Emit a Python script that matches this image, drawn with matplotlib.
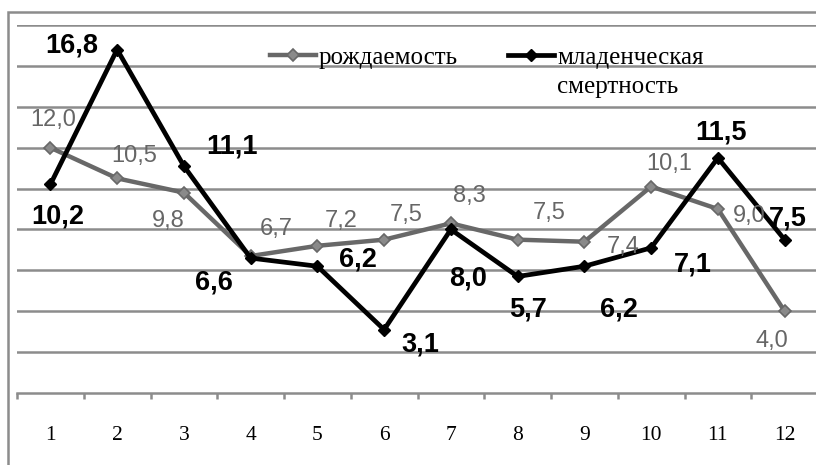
import numpy as np
import matplotlib.pyplot as plt
from matplotlib.patches import Rectangle
from matplotlib.ticker import FixedLocator

# -----------------------
# data
# -----------------------
months = [1, 2, 3, 4, 5, 6, 7, 8, 9, 10, 11, 12]
birth_rate = [12.0, 10.5, 9.8, 6.7, 7.2, 7.5, 8.3, 7.5, 7.4, 10.1, 9.0, 4.0]
infant_mort = [10.2, 16.8, 11.1, 6.6, 6.2, 3.1, 8.0, 5.7, 6.2, 7.1, 11.5, 7.5]
labels = ['рождаемость', 'младенческая', 'смертность']

# label offsets in pixels (dx right, dy up)
birth_off = [(3, 28), (17, 22), (-16, -28), (26, 27), (24, 25), (22, 25),
             (18, 27), (32, 27), (39, -5), (18, 23), (31, -7), (-13, -30)]
mort_off = [(7, -32), (-45, 4), (48, 20), (-37, -24), (41, 7), (36, -15),
            (17, -49), (10, -33), (35, -43), (42, -17), (3, 25), (3, 21)]

W, H = 816, 465
GRID = '#8c8c8c'
GRAY = '#686868'

fig = plt.figure(figsize=(W / 100, H / 100), dpi=100)
ax = fig.add_axes([17 / W, 1 - 393 / H, 801 / W, 368 / H])

# outer frame (cut off at right / bottom like the original)
fig.patches.append(Rectangle((8 / W, -0.5), 2.0, 1.5 - 12 / H,
                             transform=fig.transFigure, fill=False,
                             edgecolor=GRID, lw=1.8, clip_on=False))

ax.plot(months, birth_rate, color=GRAY, lw=3.2, marker='D', ms=6,
        mfc='#8a8a8a', mec=GRAY, mew=1.2, label=labels[0], zorder=3)
ax.plot(months, infant_mort, color='black', lw=3.4, marker='D', ms=6.5,
        mfc='black', mec='black', label=labels[1], zorder=4)

for x, v, (dx, dy) in zip(months, birth_rate, birth_off):
    ax.annotate(f'{v:.1f}'.replace('.', ','), (x, v),
                xytext=(dx * 0.72, dy * 0.72), textcoords='offset points',
                ha='center', va='center', fontsize=17, color='#666666',
                family='Liberation Sans', zorder=5)
for x, v, (dx, dy) in zip(months, infant_mort, mort_off):
    ax.annotate(f'{v:.1f}'.replace('.', ','), (x, v),
                xytext=(dx * 0.72, dy * 0.72), textcoords='offset points',
                ha='center', va='center', fontsize=19.5, color='black',
                family='Liberation Sans', fontweight='bold', zorder=5)

ax.set_xlim(0.5, 12.5)
ax.set_ylim(0, 18)
ax.set_yticks(np.arange(2, 19, 2))
ax.yaxis.grid(True, color=GRID, lw=1.8)
ax.set_axisbelow(True)
ax.tick_params(axis='y', left=False, labelleft=False)

ax.set_xticks(months)
ax.set_xticklabels([str(m) for m in months], family='Liberation Serif', fontsize=15.5)
ax.xaxis.set_minor_locator(FixedLocator(np.arange(0.5, 12.6, 1)))
ax.tick_params(axis='x', which='major', length=0, pad=24)
ax.tick_params(axis='x', which='minor', length=4, width=1.8, color=GRID, direction='out')

for s in ['top', 'right', 'left']:
    ax.spines[s].set_visible(False)
ax.spines['bottom'].set_color(GRID)
ax.spines['bottom'].set_linewidth(1.8)

leg = ax.legend(loc='upper left', bbox_to_anchor=(0.30, 0.975), ncol=2,
                frameon=False, borderpad=0, handlelength=1.85, handletextpad=0.12,
                columnspacing=2.0, prop={'family': 'Liberation Serif', 'size': 18})

# second line of the legend label
fig.canvas.draw()
t = leg.get_texts()[1]
bx, by = t.get_transform().transform(t.get_position())
fig.text(bx / W, (by - 29) / H, labels[2], ha='left', va='baseline',
         family='Liberation Serif', fontsize=18)

fig.savefig('out.png', dpi=100)
